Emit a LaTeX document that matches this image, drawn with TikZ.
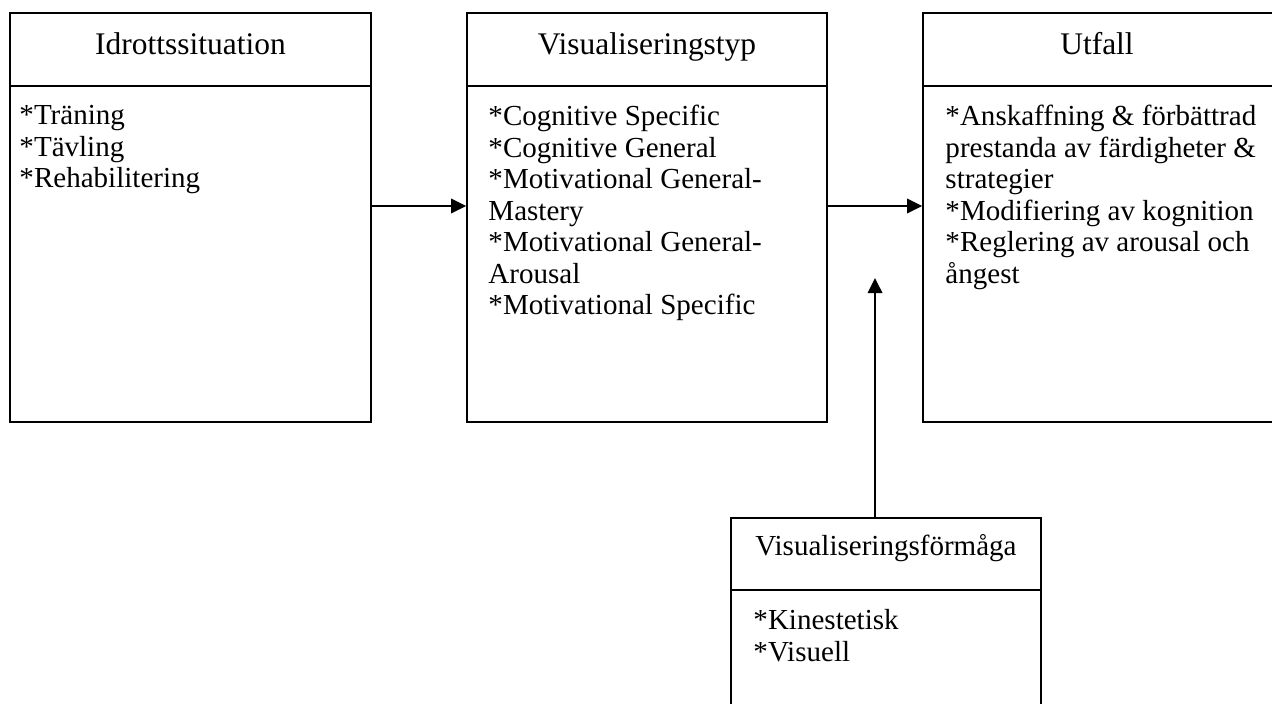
\documentclass[tikz,border=0pt]{standalone}
\usepackage{fontspec}
\setmainfont{Liberation Serif}
\usetikzlibrary{arrows.meta,fit}
\tikzset{
  boxfit/.style={draw, line width=0.75pt, inner sep=0pt, fit=#1},
  headtxt/.style={anchor=base, inner sep=0pt, font=\fontsize{13}{15}\selectfont},
  headsmall/.style={anchor=base, inner sep=0pt, font=\fontsize{12}{14}\selectfont},
  bodytxt/.style={anchor=north west, inner sep=0pt, align=left, font=\fontsize{12}{13}\selectfont},
  conn/.style={line width=0.75pt, -{Triangle[length=6.2pt,width=6pt]}},
  sepline/.style={line width=0.75pt}
}
\begin{document}
\begin{tikzpicture}[x=0.4132pt,y=-0.4132pt]
\useasboundingbox (0,0) rectangle (1272,704);
\clip (0,0) rectangle (1272,704);
% corner coordinates
\coordinate (a1) at (10,13);  \coordinate (a2) at (371,422);
\coordinate (b1) at (467,13); \coordinate (b2) at (827,422);
\coordinate (c1) at (923,13); \coordinate (c2) at (1300,422);
\coordinate (d1) at (731,518); \coordinate (d2) at (1041,730);
% boxes
\node[boxfit={(a1)(a2)}] (sit) {};
\node[boxfit={(b1)(b2)}] (typ) {};
\node[boxfit={(c1)(c2)}] (utf) {};
\node[boxfit={(d1)(d2)}] (frm) {};
% header separators
\draw[sepline] (10,86) -- (371,86);
\draw[sepline] (467,86) -- (827,86);
\draw[sepline] (923,86) -- (1300,86);
\draw[sepline] (731,590) -- (1041,590);
% headers
\node[headtxt] (hsit) at (190.5,55) {Idrottssituation};
\node[headtxt] (htyp) at (647,55) {Visualiseringstyp};
\node[headtxt] (hutf) at (1097,55) {Utfall};
\node[headsmall] (hfrm) at (886,555) {Visualiseringsförmåga};
% bodies
\node[bodytxt] (tsit) at (19,105) {*Träning\\*Tävling\\*Rehabilitering};
\node[bodytxt] (ttyp) at (488,105) {*Cognitive Specific\\*Cognitive General\\*Motivational General-\\Mastery\\*Motivational General-\\Arousal\\*Motivational Specific};
\node[bodytxt] (tutf) at (945,105) {*Anskaffning \& förbättrad\\prestanda av färdigheter \&\\strategier\\*Modifiering av kognition\\*Reglering av arousal och\\ångest};
\node[bodytxt] (tfrm) at (753,609) {*Kinestetisk\\*Visuell};
% connectors
\coordinate (tip) at (875,278);
\draw[conn] (sit.east |- 0,206) -- (typ.west |- 0,206);
\draw[conn] (typ.east |- 0,206) -- (utf.west |- 0,206);
\draw[conn] (frm.north -| tip) -- (tip);
\end{tikzpicture}
\end{document}
